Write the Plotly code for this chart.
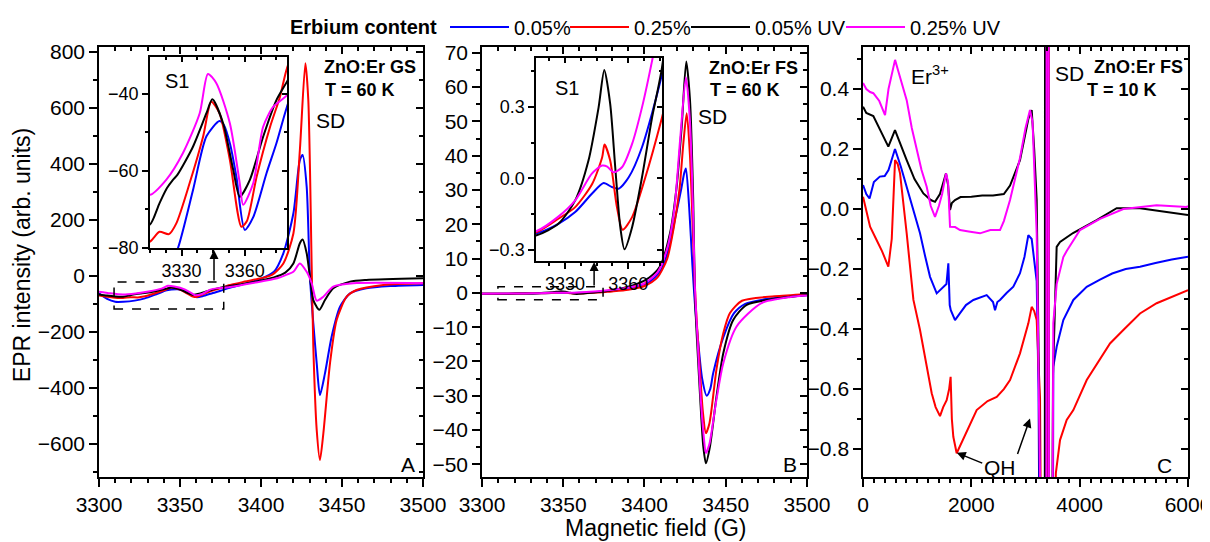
import plotly.graph_objects as go

FONT = "Liberation Sans, Arial, sans-serif"

series_names = ["0.05%", "0.25%", "0.05% UV", "0.25% UV"]
series_colors = ["#0000ff", "#ff0000", "#000000", "#ff00ff"]
legend_ids = ["legend", "legend2", "legend3", "legend4"]

# ---------------- Panel A: ZnO:Er GS, T = 60 K ----------------
A_blue_G = [3300, 3305, 3310, 3315, 3322, 3328.3, 3335.4, 3341.8, 3348, 3350, 3353, 3356, 3360, 3364, 3370.3,
            3375, 3380, 3390, 3400, 3408, 3413.8, 3420, 3424, 3425.7, 3428.2, 3430.2, 3432.3, 3434.4, 3436.4,
            3439.5, 3443.6, 3448.8, 3455, 3465, 3480, 3500]
A_blue_I = [-62, -82, -92, -92, -88, -80, -65, -51, -47, -48, -53, -61.5, -75.3, -72, -60.6,
            -52.8, -43.3, -28, -10, 15, 81, 224, 414, 432, 319, -2, -169, -312, -425,
            -348, -217, -110, -62, -44, -36, -32]

A_red_G = [3300, 3305, 3310, 3314.8, 3319.5, 3324, 3327.5, 3333.8, 3340.2, 3344.1, 3348, 3352.9, 3358.4, 3361,
           3365.6, 3372, 3376.7, 3380, 3390, 3400, 3407, 3413.8, 3420, 3424, 3427.4, 3429.2, 3431.3, 3432.3,
           3434.4, 3436.4, 3438.5, 3442.6, 3446.7, 3452.9, 3459, 3475.5, 3500]
A_red_I = [-70, -74, -78, -78.4, -75.8, -76.4, -73.6, -63.2, -51.1, -42, -45, -57.1, -74.5, -73,
           -61.5, -48.5, -40.7, -33.3, -20, -8, 5, 45, 152, 450, 760, 629, 33, -252,
           -550, -657, -562, -312, -157, -74, -50, -32, -26]

A_black_G = [3300, 3305, 3310, 3314.8, 3319.5, 3323, 3325.9, 3328, 3335.4, 3341.8, 3344.6, 3349.7, 3354.5,
             3357.6, 3362.4, 3368.7, 3375, 3380, 3395, 3408, 3415, 3420, 3424, 3425.7, 3428.2, 3430.2, 3432.3,
             3436, 3439.5, 3444.6, 3455, 3465, 3500]
A_black_I = [-66, -70, -73, -74, -68.4, -64.5, -62.3, -61, -53.7, -45, -41.4, -47.6, -59.7,
             -66.7, -62.3, -51.1, -41.6, -36.8, -22, -5, 12, 45, 117, 130, 81, -2, -86,
             -121, -86, -44, -20, -14, -8]

A_mag_G = [3300, 3307, 3314.8, 3322.7, 3330.6, 3338.6, 3342.5, 3346.5, 3352.9, 3357.6, 3359.2, 3364, 3368.7,
           3373.5, 3380, 3395, 3410, 3416, 3420, 3424, 3428.2, 3431.3, 3434.4, 3438.5, 3444.6, 3457, 3500]
A_mag_I = [-56, -62, -66.2, -62.3, -55.4, -45, -34.8, -37.2, -47.6, -63.2, -68.8, -63.2, -48.5,
           -43.3, -40.3, -25, -8, 5, 15, 45, 15, -26, -88, -74, -38, -26, -26]

# ---------------- Panel B: ZnO:Er FS, T = 60 K ----------------
B_blue_G = [3300, 3310, 3316.5, 3326.8, 3334.8, 3342.7, 3348.3, 3352.2, 3355.4, 3360.2, 3366.5, 3376, 3385,
            3395, 3403, 3410, 3415, 3419, 3422.5, 3424.5, 3425.5, 3427.5, 3429.5, 3431, 3433, 3435.5, 3438.3,
            3440.5, 3442.3, 3448.5, 3455, 3462, 3475, 3500]
B_blue_I = [-0.25, -0.24, -0.23, -0.19, -0.141, -0.064, -0.019, -0.036, -0.043, 0.005, 0.131, 0.438, 0.9,
            1.8, 3.2, 6.5, 13, 22, 30, 35, 36.3, 25, 8, -3, -14, -25, -30,
            -28, -23.4, -13, -6, -3.2, -1.8, -0.7]

B_red_G = [3300, 3316.5, 3326.8, 3334.8, 3342.9, 3347.6, 3348.7, 3351.4, 3354.6, 3357.3, 3361.8, 3368.1, 3376,
           3380, 3390, 3400, 3408, 3414, 3418, 3421.5, 3424, 3426, 3428, 3430, 3431.5, 3433.5, 3436, 3437.8,
           3440, 3444.4, 3448.5, 3452.6, 3460, 3480, 3500]
B_red_I = [-0.24, -0.225, -0.169, -0.12, -0.022, 0.089, 0.142, 0.075, -0.12, -0.215, -0.162, 0.005, 0.256,
           0.4, 0.9, 2.0, 4.5, 10, 19, 30, 44, 52.4, 40, 15, -3, -18, -35, -40.9,
           -38, -22, -11.8, -5.9, -2.3, -1.0, -0.4]

B_black_G = [3300, 3316.5, 3326.8, 3334.8, 3341.1, 3345.9, 3348.6, 3351.4, 3353.8, 3356.2, 3358.2, 3361.8,
             3366.5, 3371.3, 3376, 3385, 3395, 3403, 3409.5, 3415.7, 3419.8, 3422.9, 3425.7, 3428, 3430, 3431,
             3432, 3434.2, 3436.2, 3437.8, 3440.3, 3444.4, 3448.5, 3454.6, 3462.9, 3483.4, 3500]
B_black_I = [-0.25, -0.238, -0.19, -0.092, 0.075, 0.298, 0.455, 0.313, 0.047, -0.204, -0.297, -0.204,
             0.005, 0.256, 0.466, 1.2, 2.5, 4.5, 7.7, 17.4, 31, 48.5, 67.5, 56.3, 27, 0,
             -10.8, -30, -44.8, -49.7, -44.8, -30, -17.6, -7.9, -3.5, -1.5, -0.6]

B_mag_G = [3300, 3316.5, 3326.8, 3334.8, 3342.7, 3347.5, 3350, 3353, 3357, 3361.8, 3366.5, 3371.3, 3380,
           3390, 3400, 3408, 3414, 3418.5, 3422, 3425.5, 3428, 3430, 3431, 3432.5, 3434.5, 3436.5, 3437.8,
           3440, 3444, 3448.5, 3456.7, 3472, 3490, 3500]
B_mag_I = [-0.24, -0.22, -0.16, -0.092, 0.02, 0.054, 0.05, 0.026, 0.047, 0.145, 0.298, 0.494, 0.9,
           1.5, 2.8, 6, 13, 25, 45, 62.9, 50, 22, 2, -12, -30, -42, -46.7,
           -44, -32, -20.5, -9.8, -3, -1.2, -0.8]

# ---------------- Panel C: ZnO:Er FS, T = 10 K ----------------
C_blue_G = [0, 60, 120, 200, 310, 400, 470, 590, 700, 806, 930, 1052, 1150, 1237, 1360, 1420, 1483, 1540,
            1575, 1600, 1620, 1698, 1791, 1900, 2037, 2160, 2283, 2400, 2437, 2480, 2529, 2650, 2775, 2898,
            2980, 3052, 3114, 3160, 3206, 3240, 3270, 3385, 3390, 3420, 3425, 3500, 3513, 3575, 3698, 3883,
            4130, 4375, 4600, 4850, 5114, 5400, 5700, 6000]
C_blue_I = [0.08, 0.05, 0.035, 0.09, 0.108, 0.11, 0.13, 0.2, 0.14, 0.074, 0.0, -0.081, -0.16, -0.226, -0.281,
            -0.27, -0.26, -0.25, -0.181, -0.32, -0.337, -0.37, -0.347, -0.32, -0.303, -0.295, -0.287, -0.31,
            -0.337, -0.31, -0.303, -0.28, -0.259, -0.214, -0.16, -0.087, -0.1, -0.17, -0.24, -0.6, -1.5, -1.5,
            1.5, 1.5, -1.5, -1.5, -0.526, -0.459, -0.37, -0.303, -0.259, -0.235, -0.215, -0.2, -0.192, -0.18,
            -0.168, -0.159]

C_red_G = [0, 60, 130, 250, 350, 440, 467, 530, 591, 640, 683, 806, 930, 1052, 1145, 1268, 1340, 1421, 1480,
           1544, 1590, 1617, 1640, 1667, 1729, 1790, 1852, 1970, 2098, 2300, 2468, 2600, 2714, 2898, 3052, 3114,
           3160, 3206, 3268, 3300, 3395, 3400, 3430, 3435, 3530, 3560, 3637, 3760, 3883, 4130, 4375, 4560, 4806,
           5114, 5421, 5729, 6000]
C_red_I = [0.041, -0.01, -0.059, -0.103, -0.14, -0.18, -0.192, -0.10, 0.163, 0.15, 0.119, -0.081, -0.303,
           -0.403, -0.492, -0.614, -0.66, -0.69, -0.66, -0.637, -0.6, -0.559, -0.7, -0.759, -0.814, -0.79,
           -0.77, -0.72, -0.67, -0.64, -0.626, -0.6, -0.57, -0.481, -0.381, -0.326, -0.34, -0.37, -0.63, -1.5,
           -1.5, 1.5, 1.5, -1.5, -1.5, -0.88, -0.77, -0.703, -0.67, -0.57, -0.503, -0.448, -0.403, -0.348,
           -0.314, -0.292, -0.27]

C_black_G = [0, 60, 190, 300, 400, 467, 590, 700, 806, 950, 1114, 1250, 1329, 1420, 1480, 1532, 1570, 1606,
             1640, 1698, 1800, 2000, 2200, 2400, 2600, 2714, 2898, 3052, 3114, 3160, 3206, 3250, 3290, 3355,
             3362, 3420, 3425, 3480, 3508, 3575, 3637, 3877, 4314, 4683, 5114, 5729, 6000]
C_black_I = [0.341, 0.32, 0.31, 0.27, 0.23, 0.208, 0.263, 0.21, 0.163, 0.1, 0.052, 0.03, 0.024, 0.05, 0.09,
             0.119, 0.08, -0.003, 0.02, 0.03, 0.04, 0.041, 0.045, 0.045, 0.05, 0.078, 0.163, 0.3, 0.33, 0.2,
             0.03, -0.6, -1.5, -1.5, 1.5, 1.5, -1.5, -1.5, -0.55, -0.126, -0.11, -0.08, -0.037, 0.003, 0.003,
             -0.014, -0.02]

C_mag_G = [0, 60, 130, 190, 300, 406, 470, 560, 591, 650, 806, 900, 991, 1080, 1175, 1250, 1329, 1400, 1460,
           1532, 1570, 1606, 1700, 1791, 1950, 2160, 2350, 2529, 2600, 2714, 2898, 3000, 3083, 3130, 3206, 3268,
           3290, 3385, 3390, 3425, 3432, 3490, 3513, 3575, 3698, 3760, 4006, 4375, 4806, 5421, 5975, 6000]
C_mag_I = [0.42, 0.40, 0.39, 0.386, 0.36, 0.313, 0.40, 0.48, 0.497, 0.46, 0.363, 0.27, 0.197, 0.13, 0.074,
           0.01, -0.026, 0.01, 0.05, 0.119, 0.09, -0.059, -0.06, -0.07, -0.075, -0.081, -0.07, -0.07, -0.04,
           0.03, 0.17, 0.27, 0.33, 0.29, -0.081, -0.9, -1.5, -1.5, 1.5, 1.5, -1.5, -1.5, -0.38, -0.25, -0.16,
           -0.14, -0.07, -0.033, 0.0, 0.013, 0.007, 0.01]

A_series = [(A_blue_G, A_blue_I), (A_red_G, A_red_I), (A_black_G, A_black_I), (A_mag_G, A_mag_I)]
B_series = [(B_blue_G, B_blue_I), (B_red_G, B_red_I), (B_black_G, B_black_I), (B_mag_G, B_mag_I)]
C_series = [(C_blue_G, C_blue_I), (C_red_G, C_red_I), (C_black_G, C_black_I), (C_mag_G, C_mag_I)]

fig = go.Figure()

def add_series(series, xa, ya, width, shape, legend=False):
    for (g, v), name, col, lid in zip(series, series_names, series_colors, legend_ids):
        fig.add_trace(go.Scatter(
            x=g, y=v, mode="lines", name=name, xaxis=xa, yaxis=ya,
            line=dict(color=col, width=width, shape=shape, smoothing=0.7 if shape == "spline" else None),
            showlegend=legend, legend=lid, hoverinfo="skip"))

add_series(A_series, "x", "y", 2, "spline", legend=True)
add_series(B_series, "x2", "y2", 2, "spline")
add_series(C_series, "x3", "y3", 2, "linear")
add_series(A_series, "x4", "y4", 2, "spline")
add_series(B_series, "x5", "y5", 2, "spline")

# empty traces to bind the mirror axes
for k in range(6, 11):
    fig.add_trace(go.Scatter(x=[], y=[], xaxis=f"x{k}", yaxis=f"y{k}", showlegend=False, hoverinfo="skip"))

LW = 1.5

def ax_main(domain, rng, dtick, mdtick, anchor, tick0=None, fmt=None, size=21, ticklen=8, mlen=4):
    d = dict(domain=domain, range=rng, anchor=anchor, dtick=dtick, ticks="outside", ticklen=ticklen,
             tickwidth=LW, tickcolor="black", showline=True, linewidth=LW, linecolor="black",
             showgrid=False, zeroline=False, tickfont=dict(size=size, color="black"),
             minor=dict(dtick=mdtick, ticks="outside", ticklen=mlen, tickwidth=LW, tickcolor="black",
                        showgrid=False),
             fixedrange=True)
    if tick0 is not None:
        d["tick0"] = tick0
        d["minor"]["tick0"] = tick0
    if fmt:
        d["tickformat"] = fmt
    return d

def ax_mirror(base, rng, dtick, mdtick, anchor, side, tick0=None, ticklen=7, mlen=4):
    d = dict(overlaying=base, range=rng, anchor=anchor, side=side, dtick=dtick, ticks="inside",
             ticklen=ticklen, tickwidth=LW, tickcolor="black", showticklabels=False, showline=True,
             linewidth=LW, linecolor="black", showgrid=False, zeroline=False,
             minor=dict(dtick=mdtick, ticks="inside", ticklen=mlen, tickwidth=LW, tickcolor="black",
                        showgrid=False),
             fixedrange=True)
    if tick0 is not None:
        d["tick0"] = tick0
        d["minor"]["tick0"] = tick0
    return d

domA = [0.0, 0.2975]
domB = [0.3517, 0.6501]
domC = [0.7016, 1.0]
domIAx, domIAy = [0.0468, 0.1726], [0.5326, 0.9767]
domIBx, domIBy = [0.4013, 0.5170], [0.5023, 0.9744]

rA = ([3300, 3500], [-718, 818])
rB = ([3300, 3500], [-53.7, 71.7])
rC = ([0, 6000], [-0.893, 0.54])
rIA = ([3315, 3380], [-80, -30.4])
rIB = ([3316.2, 3376], [-0.346, 0.505])

fig.update_layout(
    xaxis=ax_main(domA, rA[0], 50, 10, "y", tick0=3300),
    yaxis=ax_main([0, 1], rA[1], 200, 100, "x", tick0=0),
    xaxis2=ax_main(domB, rB[0], 50, 10, "y2", tick0=3300),
    yaxis2=ax_main([0, 1], rB[1], 10, 5, "x2", tick0=0),
    xaxis3=ax_main(domC, rC[0], 2000, 200, "y3", tick0=0),
    yaxis3=ax_main([0, 1], rC[1], 0.2, 0.1, "x3", tick0=0, fmt=".1f"),
    xaxis4=ax_main(domIAx, rIA[0], 30, 7.5, "y4", tick0=3330, size=18, ticklen=6, mlen=3),
    yaxis4=ax_main(domIAy, rIA[1], 20, 10, "x4", tick0=-80, size=18, ticklen=6, mlen=3),
    xaxis5=ax_main(domIBx, rIB[0], 30, 7.5, "y5", tick0=3330, size=18, ticklen=6, mlen=3),
    yaxis5=ax_main(domIBy, rIB[1], 0.3, 0.15, "x5", tick0=0, fmt=".1f", size=18, ticklen=6, mlen=3),
    xaxis6=ax_mirror("x", rA[0], 50, 10, "y", "top", tick0=3300),
    yaxis6=ax_mirror("y", rA[1], 200, 100, "x", "right", tick0=0),
    xaxis7=ax_mirror("x2", rB[0], 50, 10, "y2", "top", tick0=3300),
    yaxis7=ax_mirror("y2", rB[1], 10, 5, "x2", "right", tick0=0),
    xaxis8=ax_mirror("x3", rC[0], 2000, 200, "y3", "top", tick0=0),
    yaxis8=ax_mirror("y3", rC[1], 0.2, 0.1, "x3", "right", tick0=0),
    xaxis9=ax_mirror("x4", rIA[0], 30, 7.5, "y4", "top", tick0=3330, ticklen=5, mlen=3),
    yaxis9=ax_mirror("y4", rIA[1], 20, 10, "x4", "right", tick0=-80, ticklen=5, mlen=3),
    xaxis10=ax_mirror("x5", rIB[0], 30, 7.5, "y5", "top", tick0=3330, ticklen=5, mlen=3),
    yaxis10=ax_mirror("y5", rIB[1], 0.3, 0.15, "x5", "right", tick0=0, ticklen=5, mlen=3),
)

ann = []
def txt(x, y, s, ref, size=21, bold=False, xanchor="center"):
    ann.append(dict(x=x, y=y, xref="x" + ref, yref="y" + ref, text=f"<b>{s}</b>" if bold else s,
                    showarrow=False, font=dict(size=size, color="black"), xanchor=xanchor, yanchor="middle"))

# Panel A
txt(3467, 746, "ZnO:Er GS", "", size=18, bold=True)
txt(3461, 664, "T = 60 K", "", size=18, bold=True)
txt(3442.6, 557, "SD", "")
txt(3491, -675, "A", "")
txt(3328, -36.5, "S1", "4", size=20)
# Panel B
txt(3466.8, 65.6, "ZnO:Er FS", "2", size=18, bold=True)
txt(3461.8, 59.2, "T = 60 K", "2", size=18, bold=True)
txt(3442, 51.3, "SD", "2")
txt(3489.5, -50.1, "B", "2")
txt(3331, 0.38, "S1", "5", size=20)
# Panel C
txt(1237, 0.447, "Er<sup>3+</sup>", "3")
txt(3821, 0.453, "SD", "3")
txt(5083, 0.473, "ZnO:Er FS", "3", size=18, bold=True)
txt(4781, 0.397, "T = 10 K", "3", size=18, bold=True)
txt(2529, -0.86, "QH", "3")
txt(5575, -0.853, "C", "3")

# arrows
arrow = dict(showarrow=True, arrowhead=2, arrowsize=1.2, arrowwidth=1.5, arrowcolor="black", text="")
ann.append(dict(x=3371, y=93, xref="x", yref="y", ax=0, ay=32, **arrow))
ann.append(dict(x=3369, y=9.0, xref="x2", yref="y2", ax=0, ay=25, **arrow))
ann.append(dict(x=1730, y=-0.812, xref="x3", yref="y3", ax=27, ay=11, **arrow))
ann.append(dict(x=3083, y=-0.698, xref="x3", yref="y3", ax=-13, ay=37, **arrow))

# axis titles
ann.append(dict(x=0.5115, y=-0.118, xref="paper", yref="paper", text="Magnetic field (G)", showarrow=False,
                font=dict(size=23, color="black"), xanchor="center", yanchor="middle"))
ann.append(dict(x=-0.0707, y=0.516, xref="paper", yref="paper", text="EPR intensity (arb. units)",
                showarrow=False, textangle=-90, font=dict(size=23, color="black"),
                xanchor="center", yanchor="middle"))

shapes = [
    dict(type="rect", xref="x", yref="y", x0=3309.3, x1=3377, y0=-118, y1=-21,
         line=dict(color="black", width=1.5, dash="dash")),
    dict(type="rect", xref="x2", yref="y2", x0=3309.8, x1=3374.5, y0=-2.0, y1=1.75,
         line=dict(color="black", width=1.5, dash="dash")),
]

# legends: one per entry so that each entry sits where the reference shows it
def px_to_paper_x(px):
    return (px - 99) / 1089.0

leg_common = dict(orientation="h", yanchor="middle", y=1.0465, xanchor="left",
                  font=dict(size=20, color="black"), itemwidth=59, bgcolor="rgba(0,0,0,0)", borderwidth=0)
legend_x_px = [288, 565, 686, 841]

# the page body adds an 8 px offset, so the margins are shifted by 8 px
fig.update_layout(
    width=1210, height=542,
    margin=dict(l=91, r=30, t=39, b=73, autoexpand=False),
    paper_bgcolor="white", plot_bgcolor="rgba(0,0,0,0)",
    font=dict(family=FONT, color="black"),
    annotations=ann, shapes=shapes,
    legend=dict(x=px_to_paper_x(legend_x_px[0]),
                title=dict(text="<b>Erbium content</b>", font=dict(size=20), side="left"), **leg_common),
    legend2=dict(x=px_to_paper_x(legend_x_px[1]), **leg_common),
    legend3=dict(x=px_to_paper_x(legend_x_px[2]), **leg_common),
    legend4=dict(x=px_to_paper_x(legend_x_px[3]), **leg_common),
)

fig.write_html("out.html")
